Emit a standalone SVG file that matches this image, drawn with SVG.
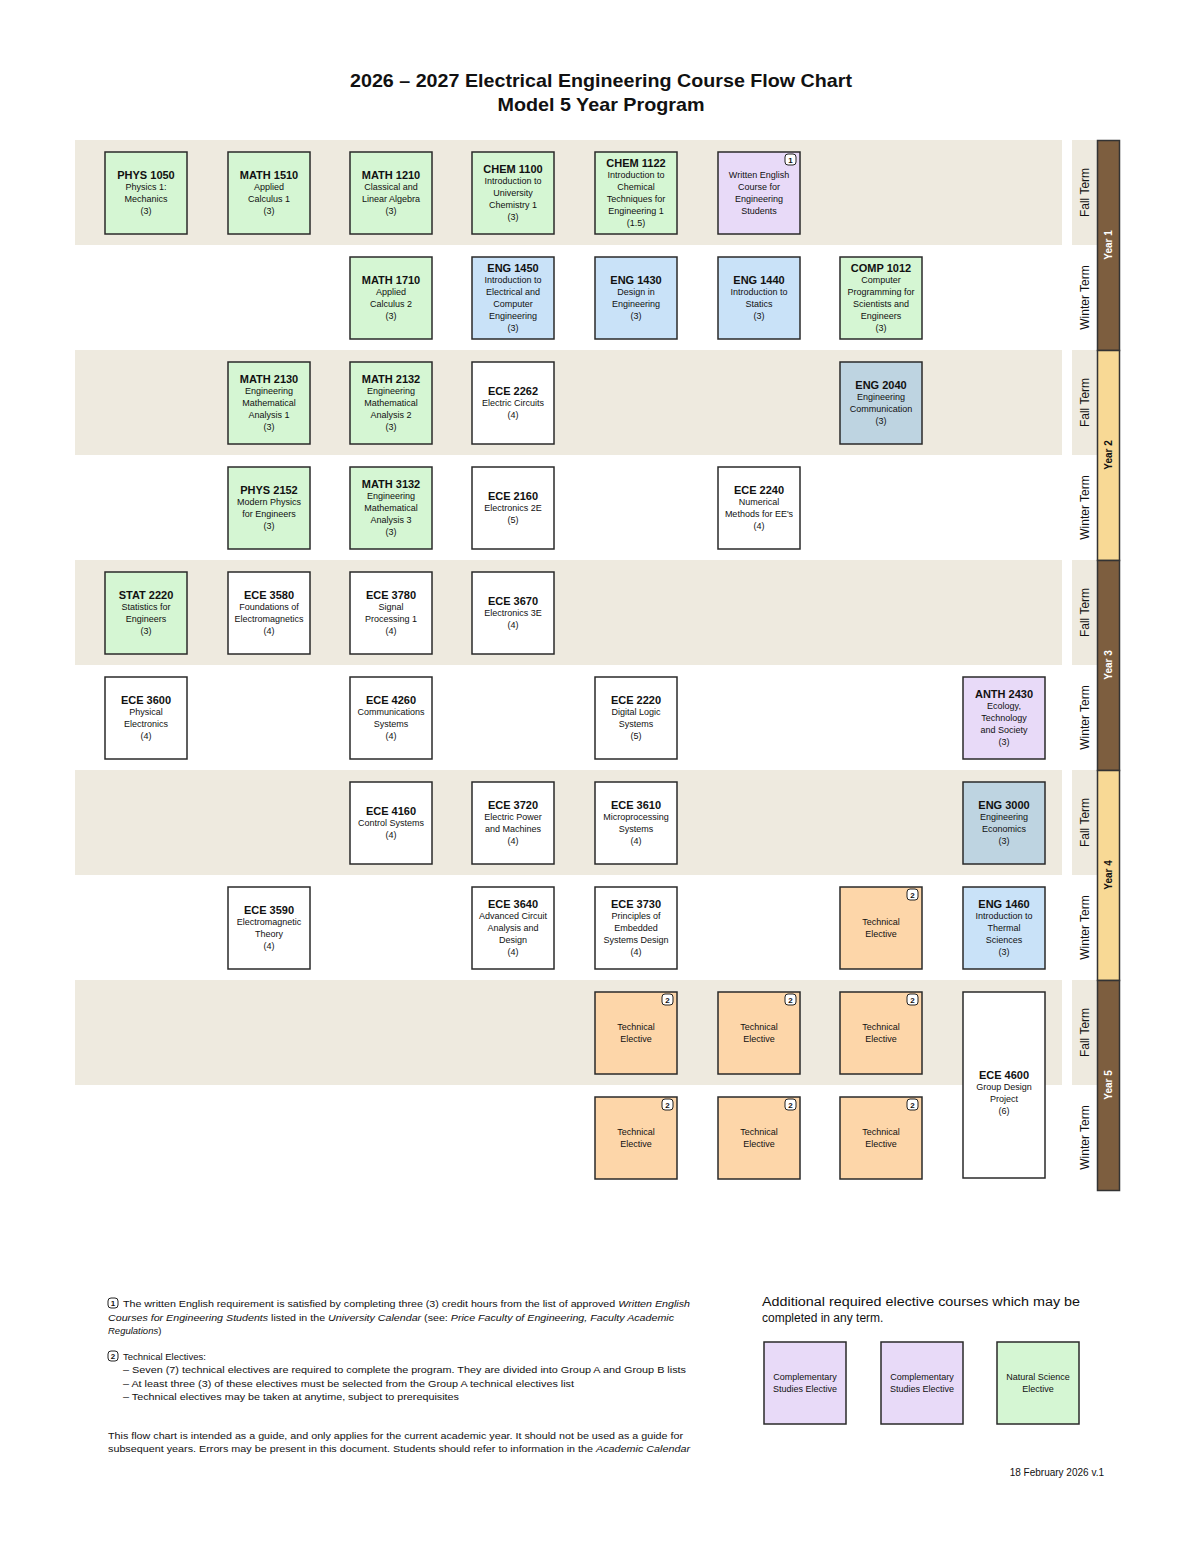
<svg xmlns="http://www.w3.org/2000/svg" width="1200" height="1553" viewBox="0 0 1200 1553">
<style>
text{font-family:"Liberation Sans",Arial,sans-serif;fill:#111}
.title{font-size:19px;font-weight:bold;text-anchor:middle}
.n{stroke:#2a2a2a;stroke-width:1.5}
.green{fill:#D5F6D3}.blue{fill:#C9E2F8}.purple{fill:#E8DAF8}.steel{fill:#BED4E1}.orange{fill:#FDD6A9}.white{fill:#fff}
.t{font-size:9px;text-anchor:middle}
.c{font-size:11px;font-weight:bold}
.band{fill:#EEEADF}
.term{font-size:12px;text-anchor:middle}
.yr{font-size:10px;font-weight:bold;text-anchor:middle}
.badge{fill:#fff;stroke:#222;stroke-width:1}
.bt{font-size:8px;font-weight:bold;text-anchor:middle}
.note{font-size:9.5px}
.add{font-size:12px}
</style>
<rect width="1200" height="1553" fill="#fff"/>
<g id="title">
<text class="title" x="601" y="87" textLength="502" lengthAdjust="spacingAndGlyphs">2026 – 2027 Electrical Engineering Course Flow Chart</text>
<text class="title" x="601" y="111" textLength="207" lengthAdjust="spacingAndGlyphs">Model 5 Year Program</text>
</g>
<g id="bands">
<rect class="band" x="75" y="140" width="987" height="105"/>
<rect class="band" x="75" y="350" width="987" height="105"/>
<rect class="band" x="75" y="560" width="987" height="105"/>
<rect class="band" x="75" y="770" width="987" height="105"/>
<rect class="band" x="75" y="980" width="987" height="105"/>
<rect class="band" x="1072" y="140" width="25" height="105"/>
<rect class="band" x="1072" y="350" width="25" height="105"/>
<rect class="band" x="1072" y="560" width="25" height="105"/>
<rect class="band" x="1072" y="770" width="25" height="105"/>
<rect class="band" x="1072" y="980" width="25" height="105"/>
</g>
<g id="terms">
<text class="term" transform="translate(1089,192.5) rotate(-90)">Fall Term</text>
<text class="term" transform="translate(1089,297.5) rotate(-90)">Winter Term</text>
<text class="term" transform="translate(1089,402.5) rotate(-90)">Fall Term</text>
<text class="term" transform="translate(1089,507.5) rotate(-90)">Winter Term</text>
<text class="term" transform="translate(1089,612.5) rotate(-90)">Fall Term</text>
<text class="term" transform="translate(1089,717.5) rotate(-90)">Winter Term</text>
<text class="term" transform="translate(1089,822.5) rotate(-90)">Fall Term</text>
<text class="term" transform="translate(1089,927.5) rotate(-90)">Winter Term</text>
<text class="term" transform="translate(1089,1032.5) rotate(-90)">Fall Term</text>
<text class="term" transform="translate(1089,1137.5) rotate(-90)">Winter Term</text>
</g>
<g id="years">
<rect x="1097.5" y="140.5" width="22" height="210" fill="#7D5E3F" stroke="#333" stroke-width="1.5"/>
<rect x="1097.5" y="350.5" width="22" height="210" fill="#F8D995" stroke="#333" stroke-width="1.5"/>
<rect x="1097.5" y="560.5" width="22" height="210" fill="#7D5E3F" stroke="#333" stroke-width="1.5"/>
<rect x="1097.5" y="770.5" width="22" height="210" fill="#F8D995" stroke="#333" stroke-width="1.5"/>
<rect x="1097.5" y="980.5" width="22" height="210" fill="#7D5E3F" stroke="#333" stroke-width="1.5"/>
<text class="yr" style="fill:#fff" transform="translate(1112,245) rotate(-90)">Year 1</text>
<text class="yr" transform="translate(1112,455) rotate(-90)">Year 2</text>
<text class="yr" style="fill:#fff" transform="translate(1112,665) rotate(-90)">Year 3</text>
<text class="yr" transform="translate(1112,875) rotate(-90)">Year 4</text>
<text class="yr" style="fill:#fff" transform="translate(1112,1085) rotate(-90)">Year 5</text>
</g>
<g id="connectors"></g>

<g id="phys1050"><rect class="n green" x="105" y="152" width="82" height="82"/><text class="t"><tspan class="c" x="146" y="179">PHYS 1050</tspan><tspan x="146" y="190">Physics 1:</tspan><tspan x="146" y="202">Mechanics</tspan><tspan x="146" y="214">(3)</tspan></text></g>
<g id="math1510"><rect class="n green" x="228" y="152" width="82" height="82"/><text class="t"><tspan class="c" x="269" y="179">MATH 1510</tspan><tspan x="269" y="190">Applied</tspan><tspan x="269" y="202">Calculus 1</tspan><tspan x="269" y="214">(3)</tspan></text></g>
<g id="math1210"><rect class="n green" x="350" y="152" width="82" height="82"/><text class="t"><tspan class="c" x="391" y="179">MATH 1210</tspan><tspan x="391" y="190">Classical and</tspan><tspan x="391" y="202">Linear Algebra</tspan><tspan x="391" y="214">(3)</tspan></text></g>
<g id="chem1100"><rect class="n green" x="472" y="152" width="82" height="82"/><text class="t"><tspan class="c" x="513" y="173">CHEM 1100</tspan><tspan x="513" y="184">Introduction to</tspan><tspan x="513" y="196">University</tspan><tspan x="513" y="208">Chemistry 1</tspan><tspan x="513" y="220">(3)</tspan></text></g>
<g id="chem1122"><rect class="n green" x="595" y="152" width="82" height="82"/><text class="t"><tspan class="c" x="636" y="167">CHEM 1122</tspan><tspan x="636" y="178">Introduction to</tspan><tspan x="636" y="190">Chemical</tspan><tspan x="636" y="202">Techniques for</tspan><tspan x="636" y="214">Engineering 1</tspan><tspan x="636" y="226">(1.5)</tspan></text></g>
<g id="written-english"><rect class="n purple" x="718" y="152" width="82" height="82"/><rect class="badge" x="785" y="154" width="11" height="11" rx="3"/><text class="bt" x="790.5" y="162.8">1</text><text class="t"><tspan x="759" y="178">Written English</tspan><tspan x="759" y="190">Course for</tspan><tspan x="759" y="202">Engineering</tspan><tspan x="759" y="214">Students</tspan></text></g>

<g id="math1710"><rect class="n green" x="350" y="257" width="82" height="82"/><text class="t"><tspan class="c" x="391" y="284">MATH 1710</tspan><tspan x="391" y="295">Applied</tspan><tspan x="391" y="307">Calculus 2</tspan><tspan x="391" y="319">(3)</tspan></text></g>
<g id="eng1450"><rect class="n blue" x="472" y="257" width="82" height="82"/><text class="t"><tspan class="c" x="513" y="272">ENG 1450</tspan><tspan x="513" y="283">Introduction to</tspan><tspan x="513" y="295">Electrical and</tspan><tspan x="513" y="307">Computer</tspan><tspan x="513" y="319">Engineering</tspan><tspan x="513" y="331">(3)</tspan></text></g>
<g id="eng1430"><rect class="n blue" x="595" y="257" width="82" height="82"/><text class="t"><tspan class="c" x="636" y="284">ENG 1430</tspan><tspan x="636" y="295">Design in</tspan><tspan x="636" y="307">Engineering</tspan><tspan x="636" y="319">(3)</tspan></text></g>
<g id="eng1440"><rect class="n blue" x="718" y="257" width="82" height="82"/><text class="t"><tspan class="c" x="759" y="284">ENG 1440</tspan><tspan x="759" y="295">Introduction to</tspan><tspan x="759" y="307">Statics</tspan><tspan x="759" y="319">(3)</tspan></text></g>
<g id="comp1012"><rect class="n green" x="840" y="257" width="82" height="82"/><text class="t"><tspan class="c" x="881" y="272">COMP 1012</tspan><tspan x="881" y="283">Computer</tspan><tspan x="881" y="295">Programming for</tspan><tspan x="881" y="307">Scientists and</tspan><tspan x="881" y="319">Engineers</tspan><tspan x="881" y="331">(3)</tspan></text></g>

<g id="math2130"><rect class="n green" x="228" y="362" width="82" height="82"/><text class="t"><tspan class="c" x="269" y="383">MATH 2130</tspan><tspan x="269" y="394">Engineering</tspan><tspan x="269" y="406">Mathematical</tspan><tspan x="269" y="418">Analysis 1</tspan><tspan x="269" y="430">(3)</tspan></text></g>
<g id="math2132"><rect class="n green" x="350" y="362" width="82" height="82"/><text class="t"><tspan class="c" x="391" y="383">MATH 2132</tspan><tspan x="391" y="394">Engineering</tspan><tspan x="391" y="406">Mathematical</tspan><tspan x="391" y="418">Analysis 2</tspan><tspan x="391" y="430">(3)</tspan></text></g>
<g id="ece2262"><rect class="n white" x="472" y="362" width="82" height="82"/><text class="t"><tspan class="c" x="513" y="395">ECE 2262</tspan><tspan x="513" y="406">Electric Circuits</tspan><tspan x="513" y="418">(4)</tspan></text></g>
<g id="eng2040"><rect class="n steel" x="840" y="362" width="82" height="82"/><text class="t"><tspan class="c" x="881" y="389">ENG 2040</tspan><tspan x="881" y="400">Engineering</tspan><tspan x="881" y="412">Communication</tspan><tspan x="881" y="424">(3)</tspan></text></g>

<g id="phys2152"><rect class="n green" x="228" y="467" width="82" height="82"/><text class="t"><tspan class="c" x="269" y="494">PHYS 2152</tspan><tspan x="269" y="505">Modern Physics</tspan><tspan x="269" y="517">for Engineers</tspan><tspan x="269" y="529">(3)</tspan></text></g>
<g id="math3132"><rect class="n green" x="350" y="467" width="82" height="82"/><text class="t"><tspan class="c" x="391" y="488">MATH 3132</tspan><tspan x="391" y="499">Engineering</tspan><tspan x="391" y="511">Mathematical</tspan><tspan x="391" y="523">Analysis 3</tspan><tspan x="391" y="535">(3)</tspan></text></g>
<g id="ece2160"><rect class="n white" x="472" y="467" width="82" height="82"/><text class="t"><tspan class="c" x="513" y="500">ECE 2160</tspan><tspan x="513" y="511">Electronics 2E</tspan><tspan x="513" y="523">(5)</tspan></text></g>
<g id="ece2240"><rect class="n white" x="718" y="467" width="82" height="82"/><text class="t"><tspan class="c" x="759" y="494">ECE 2240</tspan><tspan x="759" y="505">Numerical</tspan><tspan x="759" y="517">Methods for EE's</tspan><tspan x="759" y="529">(4)</tspan></text></g>

<g id="stat2220"><rect class="n green" x="105" y="572" width="82" height="82"/><text class="t"><tspan class="c" x="146" y="599">STAT 2220</tspan><tspan x="146" y="610">Statistics for</tspan><tspan x="146" y="622">Engineers</tspan><tspan x="146" y="634">(3)</tspan></text></g>
<g id="ece3580"><rect class="n white" x="228" y="572" width="82" height="82"/><text class="t"><tspan class="c" x="269" y="599">ECE 3580</tspan><tspan x="269" y="610">Foundations of</tspan><tspan x="269" y="622">Electromagnetics</tspan><tspan x="269" y="634">(4)</tspan></text></g>
<g id="ece3780"><rect class="n white" x="350" y="572" width="82" height="82"/><text class="t"><tspan class="c" x="391" y="599">ECE 3780</tspan><tspan x="391" y="610">Signal</tspan><tspan x="391" y="622">Processing 1</tspan><tspan x="391" y="634">(4)</tspan></text></g>
<g id="ece3670"><rect class="n white" x="472" y="572" width="82" height="82"/><text class="t"><tspan class="c" x="513" y="605">ECE 3670</tspan><tspan x="513" y="616">Electronics 3E</tspan><tspan x="513" y="628">(4)</tspan></text></g>

<g id="ece3600"><rect class="n white" x="105" y="677" width="82" height="82"/><text class="t"><tspan class="c" x="146" y="704">ECE 3600</tspan><tspan x="146" y="715">Physical</tspan><tspan x="146" y="727">Electronics</tspan><tspan x="146" y="739">(4)</tspan></text></g>
<g id="ece4260"><rect class="n white" x="350" y="677" width="82" height="82"/><text class="t"><tspan class="c" x="391" y="704">ECE 4260</tspan><tspan x="391" y="715">Communications</tspan><tspan x="391" y="727">Systems</tspan><tspan x="391" y="739">(4)</tspan></text></g>
<g id="ece2220"><rect class="n white" x="595" y="677" width="82" height="82"/><text class="t"><tspan class="c" x="636" y="704">ECE 2220</tspan><tspan x="636" y="715">Digital Logic</tspan><tspan x="636" y="727">Systems</tspan><tspan x="636" y="739">(5)</tspan></text></g>
<g id="anth2430"><rect class="n purple" x="963" y="677" width="82" height="82"/><text class="t"><tspan class="c" x="1004" y="698">ANTH 2430</tspan><tspan x="1004" y="709">Ecology,</tspan><tspan x="1004" y="721">Technology</tspan><tspan x="1004" y="733">and Society</tspan><tspan x="1004" y="745">(3)</tspan></text></g>

<g id="ece4160"><rect class="n white" x="350" y="782" width="82" height="82"/><text class="t"><tspan class="c" x="391" y="815">ECE 4160</tspan><tspan x="391" y="826">Control Systems</tspan><tspan x="391" y="838">(4)</tspan></text></g>
<g id="ece3720"><rect class="n white" x="472" y="782" width="82" height="82"/><text class="t"><tspan class="c" x="513" y="809">ECE 3720</tspan><tspan x="513" y="820">Electric Power</tspan><tspan x="513" y="832">and Machines</tspan><tspan x="513" y="844">(4)</tspan></text></g>
<g id="ece3610"><rect class="n white" x="595" y="782" width="82" height="82"/><text class="t"><tspan class="c" x="636" y="809">ECE 3610</tspan><tspan x="636" y="820">Microprocessing</tspan><tspan x="636" y="832">Systems</tspan><tspan x="636" y="844">(4)</tspan></text></g>
<g id="eng3000"><rect class="n steel" x="963" y="782" width="82" height="82"/><text class="t"><tspan class="c" x="1004" y="809">ENG 3000</tspan><tspan x="1004" y="820">Engineering</tspan><tspan x="1004" y="832">Economics</tspan><tspan x="1004" y="844">(3)</tspan></text></g>

<g id="ece3590"><rect class="n white" x="228" y="887" width="82" height="82"/><text class="t"><tspan class="c" x="269" y="914">ECE 3590</tspan><tspan x="269" y="925">Electromagnetic</tspan><tspan x="269" y="937">Theory</tspan><tspan x="269" y="949">(4)</tspan></text></g>
<g id="ece3640"><rect class="n white" x="472" y="887" width="82" height="82"/><text class="t"><tspan class="c" x="513" y="908">ECE 3640</tspan><tspan x="513" y="919">Advanced Circuit</tspan><tspan x="513" y="931">Analysis and</tspan><tspan x="513" y="943">Design</tspan><tspan x="513" y="955">(4)</tspan></text></g>
<g id="ece3730"><rect class="n white" x="595" y="887" width="82" height="82"/><text class="t"><tspan class="c" x="636" y="908">ECE 3730</tspan><tspan x="636" y="919">Principles of</tspan><tspan x="636" y="931">Embedded</tspan><tspan x="636" y="943">Systems Design</tspan><tspan x="636" y="955">(4)</tspan></text></g>
<g id="te-y4w"><rect class="n orange" x="840" y="887" width="82" height="82"/><rect class="badge" x="907" y="889" width="11" height="11" rx="3"/><text class="bt" x="912.5" y="897.8">2</text><text class="t"><tspan x="881" y="925">Technical</tspan><tspan x="881" y="937">Elective</tspan></text></g>
<g id="eng1460"><rect class="n blue" x="963" y="887" width="82" height="82"/><text class="t"><tspan class="c" x="1004" y="908">ENG 1460</tspan><tspan x="1004" y="919">Introduction to</tspan><tspan x="1004" y="931">Thermal</tspan><tspan x="1004" y="943">Sciences</tspan><tspan x="1004" y="955">(3)</tspan></text></g>

<g id="te-y5f-1"><rect class="n orange" x="595" y="992" width="82" height="82"/><rect class="badge" x="662" y="994" width="11" height="11" rx="3"/><text class="bt" x="667.5" y="1002.8">2</text><text class="t"><tspan x="636" y="1030">Technical</tspan><tspan x="636" y="1042">Elective</tspan></text></g>
<g id="te-y5f-2"><rect class="n orange" x="718" y="992" width="82" height="82"/><rect class="badge" x="785" y="994" width="11" height="11" rx="3"/><text class="bt" x="790.5" y="1002.8">2</text><text class="t"><tspan x="759" y="1030">Technical</tspan><tspan x="759" y="1042">Elective</tspan></text></g>
<g id="te-y5f-3"><rect class="n orange" x="840" y="992" width="82" height="82"/><rect class="badge" x="907" y="994" width="11" height="11" rx="3"/><text class="bt" x="912.5" y="1002.8">2</text><text class="t"><tspan x="881" y="1030">Technical</tspan><tspan x="881" y="1042">Elective</tspan></text></g>
<g id="ece4600"><rect class="n white" x="963" y="992" width="82" height="186"/><text class="t"><tspan class="c" x="1004" y="1079">ECE 4600</tspan><tspan x="1004" y="1090">Group Design</tspan><tspan x="1004" y="1102">Project</tspan><tspan x="1004" y="1114">(6)</tspan></text></g>

<g id="te-y5w-1"><rect class="n orange" x="595" y="1097" width="82" height="82"/><rect class="badge" x="662" y="1099" width="11" height="11" rx="3"/><text class="bt" x="667.5" y="1107.8">2</text><text class="t"><tspan x="636" y="1135">Technical</tspan><tspan x="636" y="1147">Elective</tspan></text></g>
<g id="te-y5w-2"><rect class="n orange" x="718" y="1097" width="82" height="82"/><rect class="badge" x="785" y="1099" width="11" height="11" rx="3"/><text class="bt" x="790.5" y="1107.8">2</text><text class="t"><tspan x="759" y="1135">Technical</tspan><tspan x="759" y="1147">Elective</tspan></text></g>
<g id="te-y5w-3"><rect class="n orange" x="840" y="1097" width="82" height="82"/><rect class="badge" x="907" y="1099" width="11" height="11" rx="3"/><text class="bt" x="912.5" y="1107.8">2</text><text class="t"><tspan x="881" y="1135">Technical</tspan><tspan x="881" y="1147">Elective</tspan></text></g>

<g id="notes">
<rect class="badge" x="108" y="1298" width="10" height="10" rx="3"/><text class="bt" x="113" y="1306">1</text>
<text class="note" x="123" y="1307" textLength="567" lengthAdjust="spacingAndGlyphs">The written English requirement is satisfied by completing three (3) credit hours from the list of approved <tspan font-style="italic">Written English</tspan></text>
<text class="note" x="108" y="1321" textLength="566" lengthAdjust="spacingAndGlyphs"><tspan font-style="italic">Courses for Engineering Students</tspan> listed in the <tspan font-style="italic">University Calendar</tspan> (see: <tspan font-style="italic">Price Faculty of Engineering, Faculty Academic</tspan></text>
<text class="note" x="108" y="1334"><tspan font-style="italic">Regulations</tspan>)</text>
<rect class="badge" x="108" y="1351" width="10" height="10" rx="3"/><text class="bt" x="113" y="1359">2</text>
<text class="note" x="123" y="1360">Technical Electives:</text>
<text class="note" x="123" y="1373" textLength="563" lengthAdjust="spacingAndGlyphs">–  Seven (7) technical electives are required to complete the program.  They are divided into Group A and Group B lists</text>
<text class="note" x="123" y="1387" textLength="451" lengthAdjust="spacingAndGlyphs">–  At least three (3) of these electives must be selected from the Group A technical electives list</text>
<text class="note" x="123" y="1400" textLength="336" lengthAdjust="spacingAndGlyphs">–  Technical electives may be taken at anytime, subject to prerequisites</text>
<text class="note" x="108" y="1439" textLength="575" lengthAdjust="spacingAndGlyphs">This flow chart is intended as a guide, and only applies for the current academic year.  It should not be used as a guide for</text>
<text class="note" x="108" y="1452" textLength="582" lengthAdjust="spacingAndGlyphs">subsequent years.  Errors may be present in this document.  Students should refer to information in the <tspan font-style="italic">Academic Calendar</tspan></text>
</g>
<g id="additional">
<text class="add" x="762" y="1306" textLength="318" lengthAdjust="spacingAndGlyphs">Additional required elective courses which may be</text>
<text class="add" x="762" y="1322">completed in any term.</text>
</g>
<g id="cs-elective-1"><rect class="n purple" x="764" y="1342" width="82" height="82"/><text class="t"><tspan x="805" y="1380">Complementary</tspan><tspan x="805" y="1392">Studies Elective</tspan></text></g>
<g id="cs-elective-2"><rect class="n purple" x="881" y="1342" width="82" height="82"/><text class="t"><tspan x="922" y="1380">Complementary</tspan><tspan x="922" y="1392">Studies Elective</tspan></text></g>
<g id="ns-elective"><rect class="n green" x="997" y="1342" width="82" height="82"/><text class="t"><tspan x="1038" y="1380">Natural Science</tspan><tspan x="1038" y="1392">Elective</tspan></text></g>
<text x="1104" y="1476" style="font-size:10px;text-anchor:end">18 February 2026 v.1</text>
</svg>
